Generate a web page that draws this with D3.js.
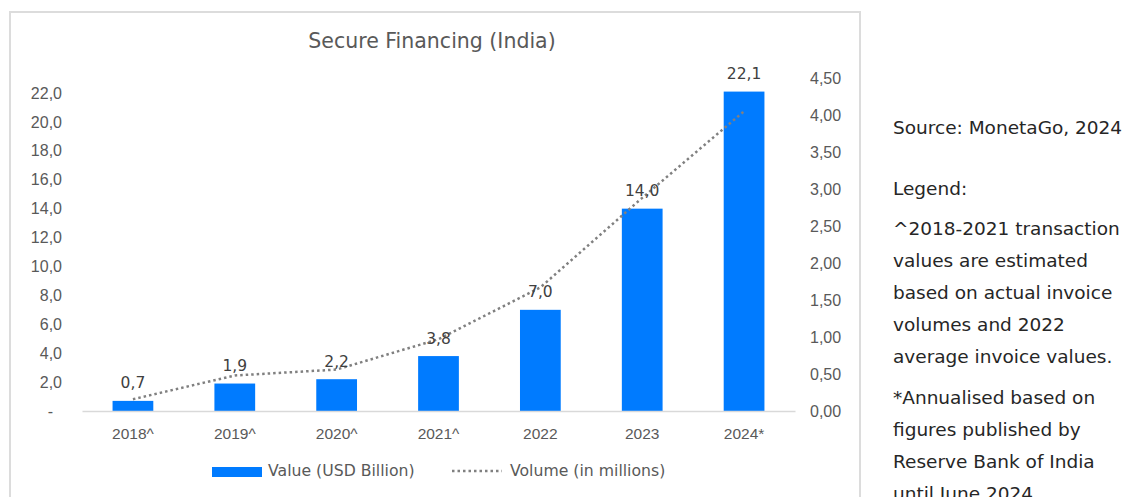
<!DOCTYPE html>
<html>
<head>
<meta charset="utf-8">
<script src="https://cdn.jsdelivr.net/npm/d3@7"></script>
<style>
  html, body { margin: 0; padding: 0; background: #ffffff; }
  svg { display: block; font-family: "DejaVu Sans", "Noto Sans", sans-serif; }
</style>
</head>
<body>
<svg id="chart" width="1132" height="497"></svg>
<script>
// ---- data ----
const categories = ["2018^", "2019^", "2020^", "2021^", "2022", "2023", "2024*"];
const valueUSDBillion = [0.7, 1.9, 2.2, 3.8, 7.0, 14.0, 22.1];
const volumeMillions = [0.16, 0.48, 0.56, 0.97, 1.67, 2.88, 4.05];
const leftTicks = [0, 2, 4, 6, 8, 10, 12, 14, 16, 18, 20, 22];
const rightTicks = [0, 0.5, 1, 1.5, 2, 2.5, 3, 3.5, 4, 4.5];
const titleText = "Secure Financing (India)";
const legendLabels = ["Value (USD Billion)", "Volume (in millions)"];
const sourceText = "Source: MonetaGo, 2024";
const noteParagraphs = [
  ["Legend:"],
  ["^2018-2021 transaction", "values are estimated", "based on actual invoice", "volumes and 2022", "average invoice values."],
  ["*Annualised based on", "figures published by", "Reserve Bank of India", "until June 2024"]
];

// ---- layout ----
const svg = d3.select("#chart");
const W = 1132, H = 497;
const plot = { left: 82, right: 795, top: 78, bottom: 411 };
const barColor = "#007bff";
const axisText = "#595959";
const lineColor = "#808080";

svg.append("rect").attr("width", W).attr("height", H).attr("fill", "#fff");
// chart frame
svg.append("rect")
  .attr("x", 10).attr("y", 12).attr("width", 850).attr("height", 520)
  .attr("fill", "none").attr("stroke", "#dcdcdc").attr("stroke-width", 2);

const x = d3.scaleBand().domain(categories).range([plot.left, plot.right])
  .paddingInner(0.6).paddingOuter(0.3);
const yL = d3.scaleLinear().domain([0, 23.04]).range([plot.bottom, plot.top]);
const yR = d3.scaleLinear().domain([0, 4.5]).range([plot.bottom, plot.top]);

const fmt1 = d => d === 0 ? "-" : d.toFixed(1).replace(".", ",");
const fmt2 = d => d.toFixed(2).replace(".", ",");

// title
svg.append("text")
  .attr("x", 432).attr("y", 41).attr("dy", "0.35em")
  .attr("text-anchor", "middle")
  .attr("font-size", 20.5).attr("fill", axisText)
  .text(titleText);

// left axis
const gL = svg.append("g").attr("transform", `translate(${plot.left},0)`)
  .call(d3.axisLeft(yL).tickValues(leftTicks).tickFormat(fmt1).tickSize(0).tickPadding(20));
gL.select(".domain").remove();
gL.selectAll("text").attr("font-size", 16).attr("fill", axisText).attr("font-family", null)
  .attr("dx", d => d === 0 ? -9 : 0);

// right axis
const gR = svg.append("g").attr("transform", `translate(${plot.right},0)`)
  .call(d3.axisRight(yR).tickValues(rightTicks).tickFormat(fmt2).tickSize(0).tickPadding(15));
gR.select(".domain").remove();
gR.selectAll("text").attr("font-size", 16).attr("fill", axisText).attr("font-family", null);

// bars
svg.append("g").selectAll("rect").data(categories).join("rect")
  .attr("x", d => x(d))
  .attr("y", (d, i) => yL(valueUSDBillion[i]))
  .attr("width", x.bandwidth())
  .attr("height", (d, i) => yL(0) - yL(valueUSDBillion[i]))
  .attr("fill", barColor);

// baseline / x axis
const gX = svg.append("g").attr("transform", `translate(0,${plot.bottom})`)
  .call(d3.axisBottom(x).tickSize(0).tickPadding(17));
gX.select(".domain").attr("stroke", "#d9d9d9").attr("stroke-width", 1.5);
gX.selectAll("text").attr("font-size", 15.5).attr("fill", axisText).attr("font-family", null);

// volume line
const line = d3.line()
  .x((d, i) => x(categories[i]) + x.bandwidth() / 2)
  .y(d => yR(d));
svg.append("path").datum(volumeMillions)
  .attr("d", line)
  .attr("fill", "none").attr("stroke", lineColor)
  .attr("stroke-width", 2.5).attr("stroke-dasharray", "2.5 3");

// data labels
svg.append("g").selectAll("text").data(categories).join("text")
  .attr("x", d => x(d) + x.bandwidth() / 2)
  .attr("y", (d, i) => yL(valueUSDBillion[i]) - 18)
  .attr("dy", "0.35em")
  .attr("text-anchor", "middle")
  .attr("font-size", 15.5).attr("fill", "#404040")
  .text((d, i) => fmt1(valueUSDBillion[i]));

// legend
const lg = svg.append("g");
lg.append("rect").attr("x", 212).attr("y", 467).attr("width", 50).attr("height", 10).attr("fill", barColor);
lg.append("text").attr("x", 268).attr("y", 471).attr("dy", "0.35em")
  .attr("font-size", 15.7).attr("fill", axisText).text(legendLabels[0]);
lg.append("line").attr("x1", 452).attr("x2", 502).attr("y1", 471).attr("y2", 471)
  .attr("stroke", lineColor).attr("stroke-width", 2.5).attr("stroke-dasharray", "2.5 3");
lg.append("text").attr("x", 510).attr("y", 471).attr("dy", "0.35em")
  .attr("font-size", 15.7).attr("fill", axisText).text(legendLabels[1]);

// right side notes
const notes = svg.append("g").attr("font-size", 18.5).attr("fill", "#262626");
notes.append("text").attr("x", 893).attr("y", 128).attr("dy", "0.35em").text(sourceText);
const paraStarts = [189, 229, 398];
const lineGap = 31.8;
noteParagraphs.forEach((para, pi) => {
  para.forEach((t, li) => {
    notes.append("text").attr("x", 893).attr("y", paraStarts[pi] + li * lineGap)
      .attr("dy", "0.35em").text(t);
  });
});
</script>
</body>
</html>
